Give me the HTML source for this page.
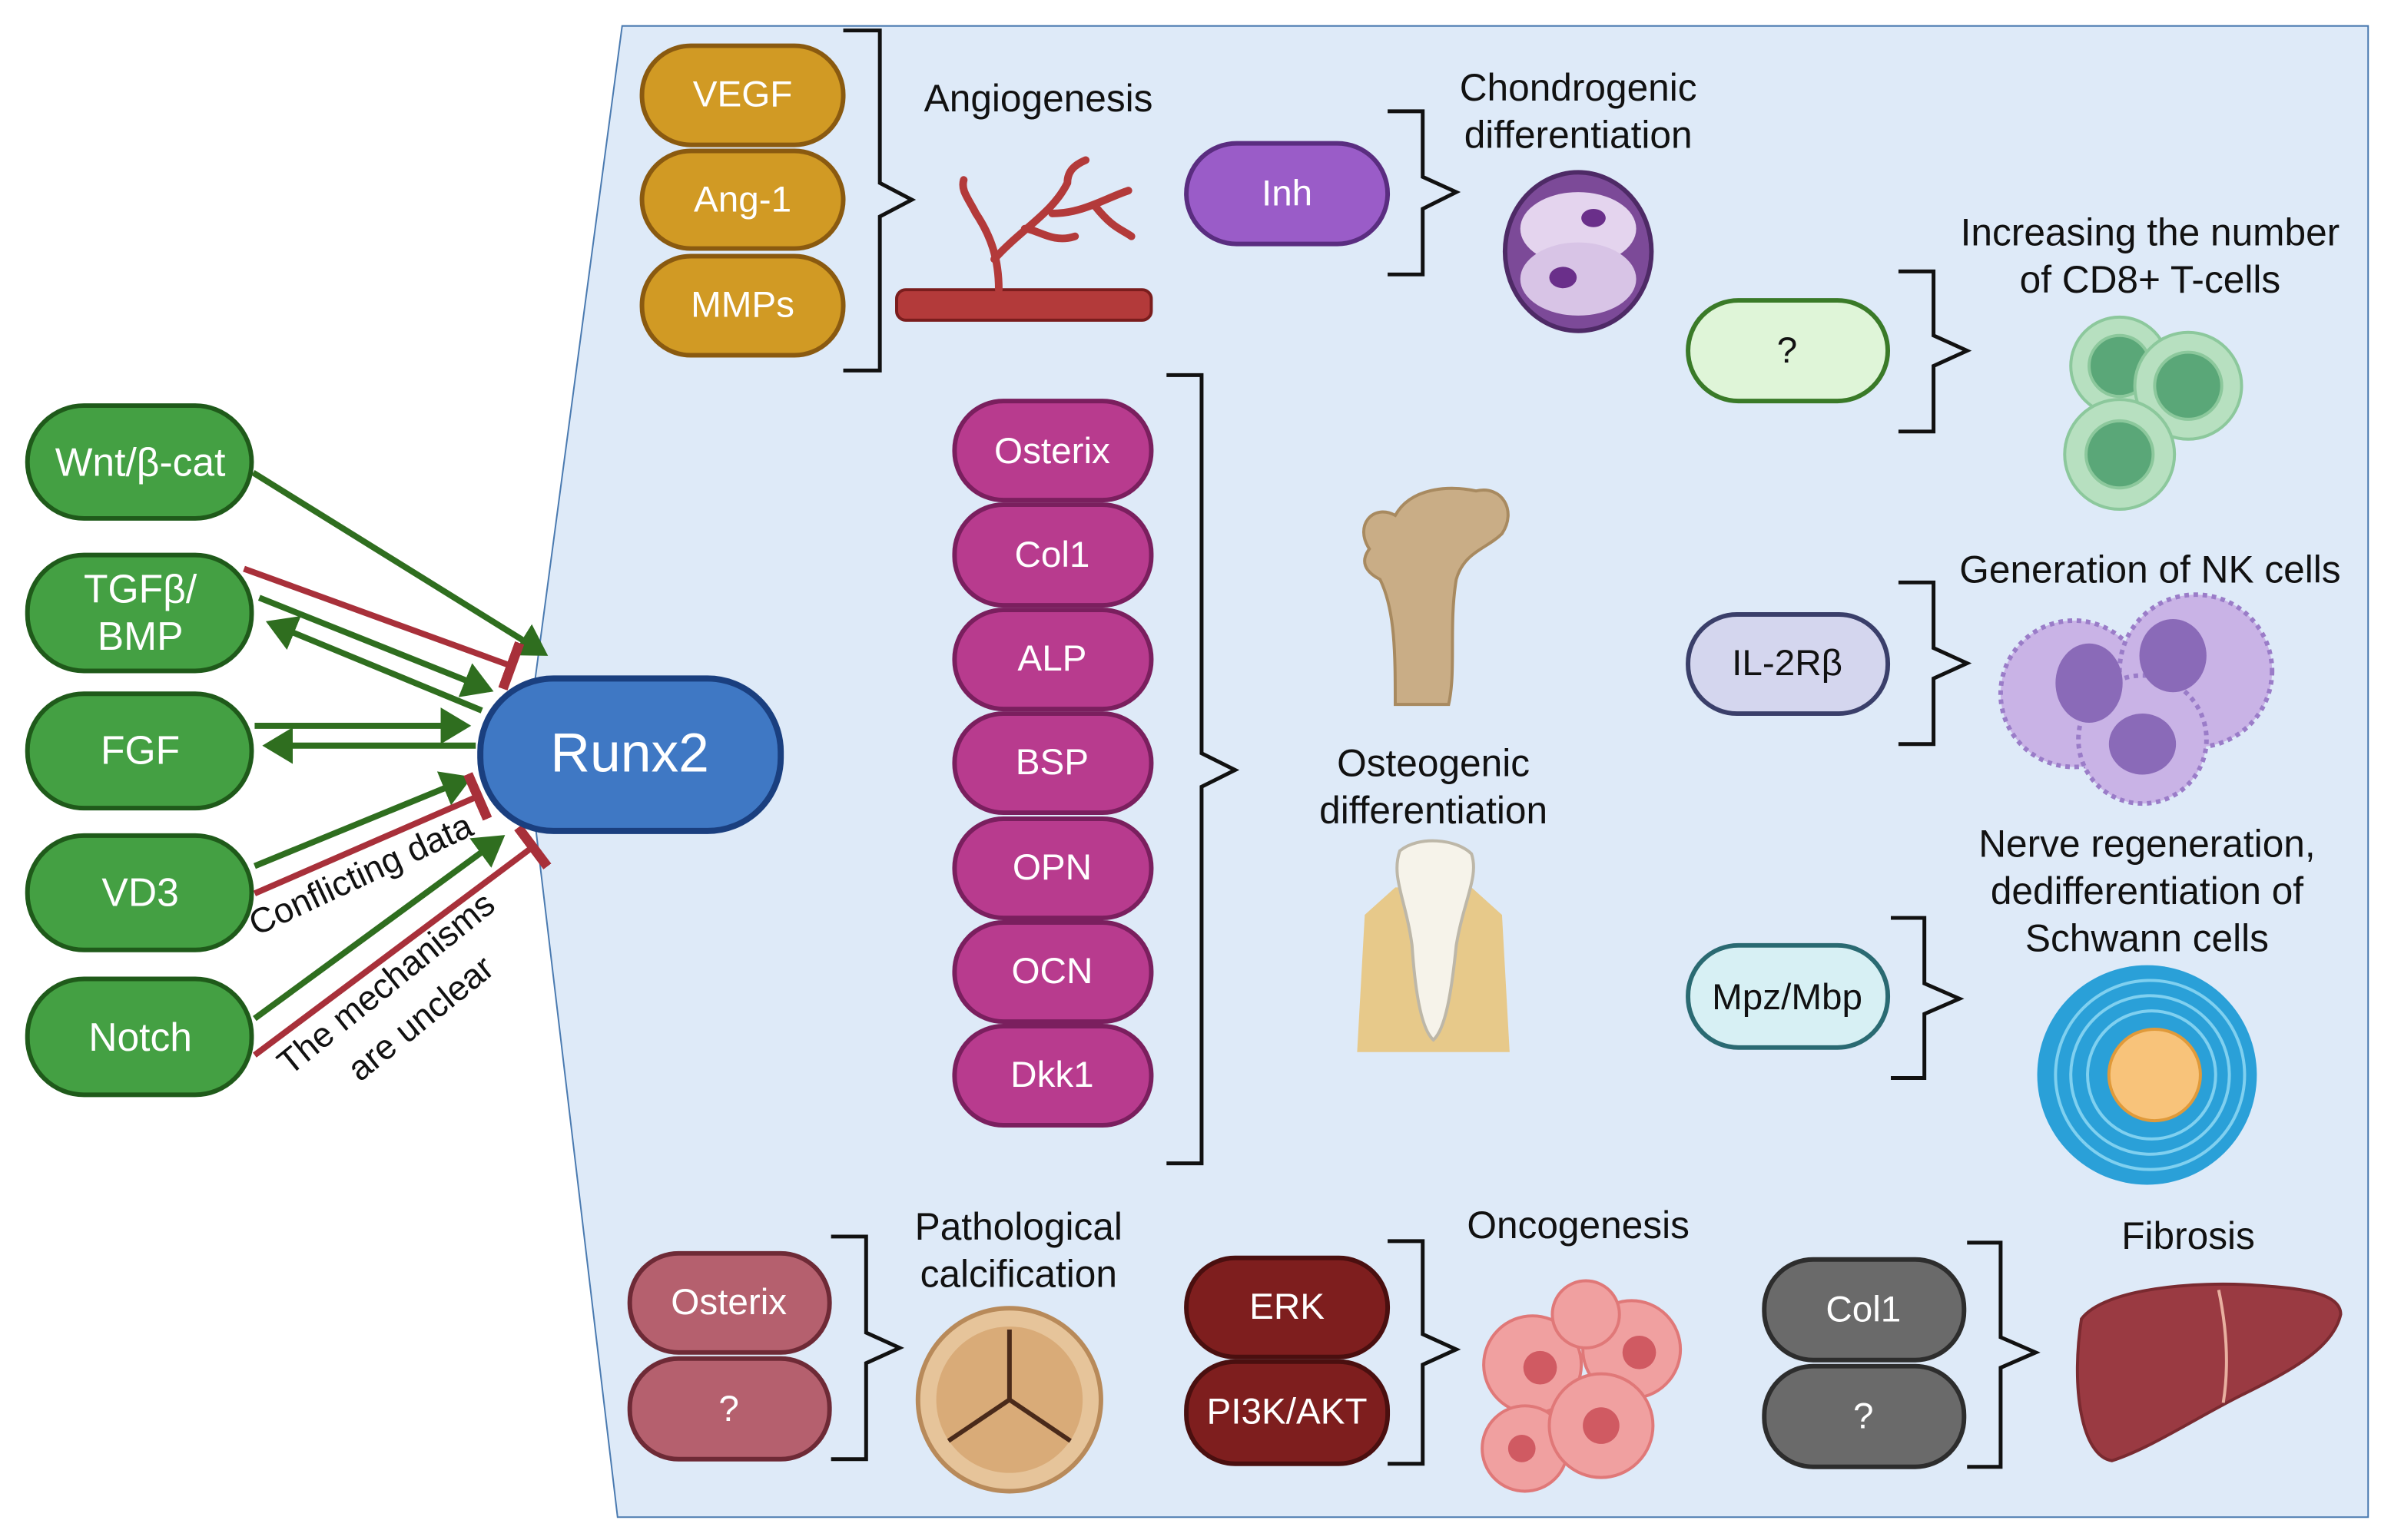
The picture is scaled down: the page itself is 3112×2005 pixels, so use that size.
<!DOCTYPE html>
<html><head><meta charset="utf-8"><style>
html,body{margin:0;padding:0;background:#fff;width:3112px;height:2005px;overflow:hidden}
svg{display:block}
text{font-family:"Liberation Sans",sans-serif}
.pt{fill:#fff;font-size:24px;text-anchor:middle;dominant-baseline:central}
.h{fill:#111;font-size:25px;text-anchor:middle}
.br{fill:none;stroke:#111;stroke-width:2.5}
.g{stroke:#2f6e1f;stroke-width:4;fill:none}
.r{stroke:#a8303a;stroke-width:4;fill:none}
</style></head><body>
<svg width="3112" height="2005" viewBox="0 0 1568 1010" preserveAspectRatio="none" xmlns="http://www.w3.org/2000/svg">
<defs>
<marker id="ag" markerWidth="6" markerHeight="6" refX="4" refY="3" orient="auto" markerUnits="strokeWidth"><path d="M0,0 L5,3 L0,6 z" fill="#2f6e1f"/></marker>
<marker id="tr" markerWidth="2" markerHeight="8" refX="1" refY="4" orient="auto" markerUnits="strokeWidth"><rect x="0" y="0" width="1.6" height="8" fill="#a8303a"/></marker>
</defs>
<polygon points="408,17 1553,17 1553,995 405,995 345,490" fill="#deeaf8" stroke="#4a7ab0" stroke-width="1"/>

<g fill="#44a043" stroke="#1f5a1a" stroke-width="3">
<rect x="18" y="266" width="147" height="74" rx="37"/>
<rect x="18" y="364" width="147" height="76" rx="37"/>
<rect x="18" y="455" width="147" height="75" rx="37"/>
<rect x="18" y="548" width="147" height="75" rx="37"/>
<rect x="18" y="642" width="147" height="76" rx="37"/>
</g>
<text class="pt" x="92" y="303" style="font-size:26px">Wnt/β-cat</text>
<text class="pt" x="92" y="386" style="font-size:26px">TGFβ/</text>
<text class="pt" x="92" y="417" style="font-size:26px">BMP</text>
<text class="pt" x="92" y="492" style="font-size:26px">FGF</text>
<text class="pt" x="92" y="585" style="font-size:26px">VD3</text>
<text class="pt" x="92" y="680" style="font-size:26px">Notch</text>

<line class="g" x1="166" y1="310" x2="356" y2="428" marker-end="url(#ag)"/>
<line class="r" x1="160" y1="373" x2="336" y2="437" marker-end="url(#tr)"/>
<line class="g" x1="170" y1="392" x2="320" y2="452" marker-end="url(#ag)"/>
<line class="g" x1="316" y1="466" x2="178" y2="409" marker-end="url(#ag)"/>
<line class="g" x1="167" y1="476" x2="305" y2="476" marker-end="url(#ag)"/>
<line class="g" x1="312" y1="489" x2="176" y2="489" marker-end="url(#ag)"/>
<line class="g" x1="167" y1="568" x2="306" y2="511" marker-end="url(#ag)"/>
<line class="r" x1="167" y1="586" x2="314" y2="522" marker-end="url(#tr)"/>
<line class="g" x1="167" y1="668" x2="328" y2="550" marker-end="url(#ag)"/>
<line class="r" x1="167" y1="692" x2="350" y2="555" marker-end="url(#tr)"/>
<text x="168" y="614" transform="rotate(-25 168 614)" style="font-size:23px" fill="#111">Conflicting data</text>
<text x="190" y="706" transform="rotate(-39 190 706)" style="font-size:23px" fill="#111">The mechanisms</text>
<text x="236" y="710" transform="rotate(-39 236 710)" style="font-size:23px" fill="#111">are unclear</text>

<rect x="315" y="445" width="197" height="100" rx="48" fill="#3f78c4" stroke="#1a3f7f" stroke-width="4"/>
<text class="pt" x="413" y="494" style="font-size:36px">Runx2</text>

<g fill="#d19a24" stroke="#8a5a10" stroke-width="3">
<rect x="421" y="30" width="132" height="65" rx="32"/>
<rect x="421" y="99" width="132" height="64" rx="32"/>
<rect x="421" y="168" width="132" height="65" rx="32"/>
</g>
<text class="pt" x="487" y="62">VEGF</text>
<text class="pt" x="487" y="131">Ang-1</text>
<text class="pt" x="487" y="200">MMPs</text>
<path class="br" d="M553,20 H577 V120 L598,131 L577,142 V243 H553"/>
<text class="h" x="681" y="73">Angiogenesis</text>
<rect x="588" y="190" width="167" height="20" rx="6" fill="#b33a3a" stroke="#7a1d1d" stroke-width="2"/>
<path d="M655,190 C655,170 650,155 640,140 M652,170 C670,150 690,140 700,120 M690,140 C710,140 725,130 740,125 M700,120 C700,112 705,108 712,105 M640,140 C635,130 630,125 632,118 M672,150 C680,150 690,160 705,155 M718,135 C730,150 735,150 742,155" stroke="#b33a3a" stroke-width="5" fill="none" stroke-linecap="round"/>

<rect x="778" y="94" width="132" height="66" rx="33" fill="#9a5cc8" stroke="#5a2d80" stroke-width="3"/>
<text class="pt" x="844" y="127">Inh</text>
<path class="br" d="M910,73 H933 V116 L955,126 L933,137 V180 H910"/>
<text class="h" x="1035" y="66">Chondrogenic</text>
<text class="h" x="1035" y="97">differentiation</text>
<ellipse cx="1035" cy="165" rx="48" ry="52" fill="#7c4a98" stroke="#4e2a66" stroke-width="3"/>
<ellipse cx="1035" cy="150" rx="38" ry="24" fill="#e4d4ee"/>
<ellipse cx="1035" cy="183" rx="38" ry="24" fill="#d8c4e6"/>
<ellipse cx="1045" cy="143" rx="8" ry="6" fill="#6a2f8a"/>
<ellipse cx="1025" cy="182" rx="9" ry="7" fill="#6a2f8a"/>

<rect x="1107" y="197" width="131" height="66" rx="33" fill="#dff5d8" stroke="#3a7a28" stroke-width="3"/>
<text class="pt" x="1172" y="230" style="fill:#111">?</text>
<path class="br" d="M1245,178 H1268 V220 L1290,230 L1268,240 V283 H1245"/>
<text class="h" x="1410" y="161">Increasing the number</text>
<text class="h" x="1410" y="192">of CD8+ T-cells</text>
<g stroke="#8cc89c" stroke-width="2">
<circle cx="1390" cy="240" r="32" fill="#b7e0c0"/><circle cx="1390" cy="240" r="20" fill="#5aa778"/>
<circle cx="1435" cy="253" r="35" fill="#b7e0c0"/><circle cx="1435" cy="253" r="22" fill="#5aa778"/>
<circle cx="1390" cy="298" r="36" fill="#b7e0c0"/><circle cx="1390" cy="298" r="22" fill="#5aa778"/>
</g>

<g fill="#b83b8e" stroke="#7a1f5e" stroke-width="3">
<rect x="626" y="263" width="129" height="65" rx="32"/>
<rect x="626" y="331" width="129" height="66" rx="32"/>
<rect x="626" y="400" width="129" height="65" rx="32"/>
<rect x="626" y="468" width="129" height="65" rx="32"/>
<rect x="626" y="537" width="129" height="65" rx="32"/>
<rect x="626" y="605" width="129" height="65" rx="32"/>
<rect x="626" y="673" width="129" height="65" rx="32"/>
</g>
<text class="pt" x="690" y="296">Osterix</text>
<text class="pt" x="690" y="364">Col1</text>
<text class="pt" x="690" y="432">ALP</text>
<text class="pt" x="690" y="500">BSP</text>
<text class="pt" x="690" y="569">OPN</text>
<text class="pt" x="690" y="637">OCN</text>
<text class="pt" x="690" y="705">Dkk1</text>
<path class="br" d="M765,246 H788 V494 L810,505 L788,516 V763 H765"/>
<text class="h" x="940" y="509">Osteogenic</text>
<text class="h" x="940" y="540">differentiation</text>
<path d="M898,360 C888,345 900,330 915,338 C925,320 950,318 968,322 C985,318 995,335 985,350 C975,360 960,362 955,380 C950,410 955,440 950,462 L915,462 C915,430 915,400 905,380 C895,375 892,368 898,360 z" fill="#c9ad86" stroke="#a88a60" stroke-width="2"/>
<path d="M890,690 L895,600 L915,582 L965,582 L985,600 L990,690 z" fill="#e7c98a"/>
<path d="M918,558 C930,548 955,550 965,560 C970,575 960,590 955,620 C952,650 948,675 940,682 C932,675 928,650 926,620 C922,590 912,575 918,558 z" fill="#f6f3ea" stroke="#bdb7a8" stroke-width="2"/>

<rect x="1107" y="403" width="131" height="65" rx="32" fill="#d4d6ee" stroke="#3a3f6a" stroke-width="3"/>
<text class="pt" x="1172" y="435" style="fill:#111">IL-2Rβ</text>
<path class="br" d="M1245,382 H1268 V425 L1290,435 L1268,445 V488 H1245"/>
<text class="h" x="1410" y="382">Generation of NK cells</text>
<g fill="#c9b3e6" stroke="#9a7cc8" stroke-width="3" stroke-dasharray="3 3">
<circle cx="1360" cy="455" r="48"/><circle cx="1440" cy="440" r="50"/><circle cx="1405" cy="485" r="42"/>
</g>
<g fill="#8a6ab8">
<ellipse cx="1370" cy="448" rx="22" ry="26"/><ellipse cx="1425" cy="430" rx="22" ry="24"/><ellipse cx="1405" cy="488" rx="22" ry="20"/>
</g>

<rect x="1107" y="620" width="131" height="67" rx="33" fill="#d7f0f4" stroke="#2a6a72" stroke-width="3"/>
<text class="pt" x="1172" y="654" style="fill:#111">Mpz/Mbp</text>
<path class="br" d="M1240,602 H1262 V645 L1285,655 L1262,665 V707 H1240"/>
<text class="h" x="1408" y="562">Nerve regeneration,</text>
<text class="h" x="1408" y="593">dedifferentiation of</text>
<text class="h" x="1408" y="624">Schwann cells</text>
<circle cx="1408" cy="705" r="72" fill="#2aa0d8"/>
<g fill="none" stroke="#7fd0f0" stroke-width="2">
<circle cx="1410" cy="705" r="62"/><circle cx="1410" cy="705" r="52"/><circle cx="1411" cy="705" r="42"/>
</g>
<circle cx="1413" cy="705" r="30" fill="#f8c37a" stroke="#e09a3a" stroke-width="2"/>

<g fill="#b5606e" stroke="#6e2a36" stroke-width="3">
<rect x="413" y="822" width="131" height="65" rx="32"/>
<rect x="413" y="891" width="131" height="66" rx="32"/>
</g>
<text class="pt" x="478" y="854">Osterix</text>
<text class="pt" x="478" y="924">?</text>
<path class="br" d="M545,811 H568 V874 L590,884 L568,894 V957 H545"/>
<text class="h" x="668" y="813">Pathological</text>
<text class="h" x="668" y="844">calcification</text>
<circle cx="662" cy="918" r="60" fill="#e6c49a" stroke="#b88a5a" stroke-width="3"/>
<circle cx="662" cy="918" r="48" fill="#d9ab78"/>
<path d="M662,918 L662,872 M662,918 L622,945 M662,918 L702,945" stroke="#4a2a1a" stroke-width="3"/>

<g fill="#7e1e1e" stroke="#4a0f0f" stroke-width="3">
<rect x="778" y="825" width="132" height="65" rx="32"/>
<rect x="778" y="893" width="132" height="67" rx="32"/>
</g>
<text class="pt" x="844" y="857">ERK</text>
<text class="pt" x="844" y="926">PI3K/AKT</text>
<path class="br" d="M910,814 H933 V875 L955,885 L933,895 V960 H910"/>
<text class="h" x="1035" y="812">Oncogenesis</text>
<g fill="#f0a0a0" stroke="#e07878" stroke-width="2">
<circle cx="1005" cy="895" r="32"/><circle cx="1070" cy="885" r="32"/><circle cx="1000" cy="950" r="28"/><circle cx="1050" cy="935" r="34"/><circle cx="1040" cy="862" r="22"/>
</g>
<g fill="#d05a62"><circle cx="1010" cy="897" r="11"/><circle cx="1075" cy="887" r="11"/><circle cx="1050" cy="935" r="12"/><circle cx="998" cy="950" r="9"/></g>

<g fill="#6a6a6a" stroke="#2d2d2d" stroke-width="3">
<rect x="1157" y="826" width="131" height="66" rx="32"/>
<rect x="1157" y="896" width="131" height="66" rx="32"/>
</g>
<text class="pt" x="1222" y="859">Col1</text>
<text class="pt" x="1222" y="929">?</text>
<path class="br" d="M1290,815 H1312 V877 L1335,887 L1312,897 V962 H1290"/>
<text class="h" x="1435" y="819">Fibrosis</text>
<path d="M1365,865 C1380,845 1440,840 1480,843 C1510,845 1535,848 1535,862 C1530,885 1500,900 1470,915 C1440,930 1410,950 1385,958 C1365,955 1358,910 1365,865 z" fill="#9a3a42" stroke="#7a2a30" stroke-width="2"/>
<path d="M1455,846 C1460,870 1462,895 1458,920" stroke="#e8b0a0" stroke-width="2" fill="none"/>
</svg>
</body></html>
